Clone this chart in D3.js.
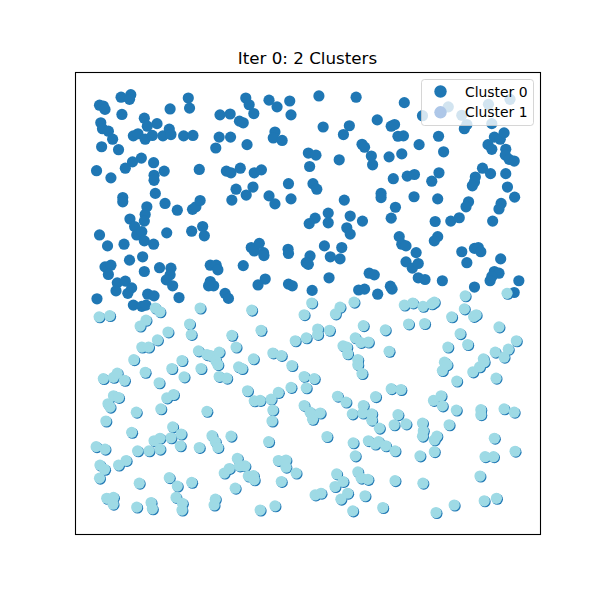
<!DOCTYPE html>
<html>
<head>
<meta charset="utf-8">
<script src="https://cdn.jsdelivr.net/npm/d3@7"></script>
<style>
html,body{margin:0;padding:0;background:#fff;}
svg{display:block;}
</style>
</head>
<body>
<svg id="chart" width="600" height="600"></svg>
<script>
const titleText = "Iter 0: 2 Clusters";
const seriesNames = ["Cluster 0", "Cluster 1"];
const pointColors = ["#1f77b4", "#9edae5"];
const legendColors = ["#1f77b4", "#aec7e8"];

const cluster0 = [
[0.059,0.990],[0.082,0.996],[0.079,0.985],[0.008,0.971],[0.017,0.969],[0.021,0.961],[0.061,0.949],[0.114,0.940],[0.144,0.927],[0.121,0.921],
[0.175,0.962],[0.218,0.988],[0.221,0.964],[0.293,0.948],[0.317,0.950],[0.011,0.929],[0.015,0.915],[0.029,0.909],[0.039,0.890],[0.088,0.898],
[0.099,0.903],[0.116,0.890],[0.133,0.899],[0.158,0.898],[0.173,0.914],[0.177,0.901],[0.207,0.898],[0.229,0.899],[0.291,0.895],[0.318,0.895],
[0.013,0.872],[0.053,0.865],[0.283,0.869],[0.107,0.845],[0.086,0.836],[0.136,0.834],[0.069,0.821],[0.001,0.815],[0.035,0.798],[0.137,0.804],
[0.137,0.792],[0.161,0.814],[0.244,0.818],[0.308,0.814],[0.319,0.810],
[0.354,0.988],[0.362,0.972],[0.373,0.951],[0.339,0.933],[0.348,0.929],[0.409,0.983],[0.428,0.967],[0.458,0.981],[0.461,0.948],[0.527,0.993],
[0.615,0.990],[0.665,0.936],[0.537,0.919],[0.599,0.922],[0.585,0.901],[0.423,0.907],[0.419,0.893],[0.440,0.887],[0.357,0.877],[0.629,0.878],
[0.635,0.871],[0.502,0.857],[0.520,0.852],[0.505,0.825],[0.575,0.841],[0.651,0.850],[0.654,0.829],[0.341,0.821],[0.374,0.810],[0.391,0.817],
[0.455,0.784],[0.513,0.784],[0.371,0.776],
[0.729,0.977],[0.772,0.946],[0.833,0.967],[0.865,0.947],[0.928,0.973],[0.979,0.985],[0.936,0.927],[0.871,0.915],[0.877,0.925],[0.698,0.921],
[0.706,0.925],[0.714,0.897],[0.727,0.898],[0.810,0.897],[0.942,0.895],[0.956,0.890],[0.965,0.905],[0.764,0.877],[0.822,0.860],[0.693,0.848],
[0.723,0.855],[0.927,0.877],[0.936,0.866],[0.969,0.866],[0.968,0.852],[0.977,0.842],[0.989,0.838],[0.703,0.796],[0.736,0.802],[0.753,0.806],
[0.794,0.790],[0.811,0.810],[0.897,0.800],[0.895,0.788],[0.890,0.779],[0.914,0.821],[0.933,0.808],[0.969,0.808],[0.973,0.776],
[0.140,0.761],[0.321,0.745],[0.063,0.751],[0.063,0.741],[0.120,0.729],[0.116,0.711],[0.114,0.695],[0.163,0.737],[0.192,0.721],[0.228,0.723],
[0.236,0.729],[0.246,0.744],[0.080,0.700],[0.091,0.682],[0.096,0.662],[0.108,0.670],[0.114,0.648],[0.136,0.640],[0.167,0.667],[0.226,0.671],
[0.252,0.682],[0.256,0.660],[0.008,0.662],[0.027,0.636],[0.066,0.640],[0.079,0.602],[0.110,0.610],[0.021,0.586],[0.035,0.590],[0.029,0.568],
[0.114,0.575],[0.150,0.584],[0.177,0.583],[0.175,0.567],[0.166,0.555],[0.181,0.541],[0.050,0.548],[0.069,0.552],[0.084,0.536],[0.047,0.529],
[0.075,0.523],[0.270,0.590],[0.284,0.590],[0.288,0.579],[0.270,0.551],[0.278,0.541],[0.266,0.541],[0.305,0.523],[0.313,0.511],[0.002,0.510],
[0.122,0.521],[0.137,0.517],[0.196,0.513],
[0.331,0.771],[0.355,0.757],[0.409,0.755],[0.423,0.736],[0.461,0.748],[0.522,0.771],[0.587,0.745],[0.674,0.761],[0.674,0.751],[0.549,0.714],
[0.518,0.702],[0.504,0.689],[0.549,0.691],[0.601,0.707],[0.630,0.695],[0.593,0.679],[0.601,0.664],[0.367,0.632],[0.374,0.624],[0.386,0.642],
[0.396,0.620],[0.397,0.613],[0.454,0.628],[0.455,0.618],[0.540,0.636],[0.581,0.632],[0.554,0.610],[0.577,0.605],[0.506,0.612],[0.497,0.596],
[0.502,0.592],[0.348,0.589],[0.551,0.560],[0.400,0.557],[0.383,0.543],[0.455,0.545],[0.464,0.541],[0.646,0.571],[0.658,0.567],[0.511,0.530],
[0.621,0.531],[0.635,0.533],[0.666,0.521],
[0.752,0.753],[0.808,0.748],[0.990,0.752],[0.708,0.728],[0.698,0.702],[0.881,0.741],[0.875,0.729],[0.958,0.737],[0.953,0.724],[0.802,0.694],
[0.839,0.695],[0.859,0.703],[0.938,0.695],[0.717,0.658],[0.723,0.640],[0.733,0.636],[0.808,0.658],[0.800,0.648],[0.757,0.620],[0.733,0.598],
[0.748,0.583],[0.762,0.594],[0.865,0.622],[0.895,0.630],[0.904,0.632],[0.910,0.622],[0.877,0.596],[0.957,0.605],[0.762,0.560],[0.778,0.556],
[0.819,0.553],[0.942,0.575],[0.953,0.571],[0.936,0.563],[0.932,0.553],[1.000,0.553],[0.696,0.540],[0.700,0.533],[0.895,0.538],[0.989,0.525],
[0.088,0.495],[0.108,0.492],[0.118,0.495]
];

const cluster1 = [
[0.873,0.517],[0.972,0.523],
[0.140,0.488],[0.151,0.479],[0.007,0.467],[0.032,0.470],[0.118,0.459],[0.104,0.445],[0.246,0.488],[0.221,0.450],[0.225,0.425],[0.170,0.431],
[0.145,0.412],[0.108,0.395],[0.124,0.395],[0.321,0.423],[0.242,0.386],[0.262,0.377],[0.270,0.375],[0.291,0.383],[0.283,0.363],[0.288,0.353],
[0.089,0.365],[0.203,0.363],[0.179,0.344],[0.248,0.344],[0.116,0.335],[0.208,0.324],[0.291,0.325],[0.309,0.321],[0.017,0.320],[0.041,0.323],
[0.050,0.333],[0.067,0.316],[0.149,0.310],[0.041,0.279],[0.053,0.275],[0.028,0.260],[0.033,0.252],[0.167,0.274],[0.183,0.282],[0.153,0.248],
[0.095,0.240],[0.262,0.242],
[0.510,0.500],[0.368,0.483],[0.492,0.472],[0.577,0.490],[0.566,0.474],[0.610,0.502],[0.331,0.395],[0.390,0.435],[0.524,0.438],[0.524,0.425],
[0.552,0.435],[0.471,0.410],[0.497,0.417],[0.632,0.446],[0.613,0.417],[0.626,0.406],[0.644,0.407],[0.684,0.436],[0.584,0.398],[0.593,0.395],
[0.595,0.379],[0.418,0.381],[0.438,0.375],[0.372,0.367],[0.337,0.348],[0.345,0.344],[0.463,0.351],[0.619,0.365],[0.619,0.353],[0.629,0.332],
[0.492,0.325],[0.516,0.320],[0.358,0.291],[0.431,0.287],[0.461,0.299],[0.497,0.298],[0.374,0.267],[0.388,0.268],[0.414,0.271],[0.418,0.245],
[0.571,0.278],[0.591,0.264],[0.661,0.277],[0.492,0.256],[0.506,0.240],[0.530,0.238],[0.632,0.256],[0.631,0.238],[0.652,0.236],[0.606,0.236],
[0.729,0.495],[0.749,0.500],[0.773,0.492],[0.794,0.498],[0.800,0.502],[0.871,0.486],[0.893,0.468],[0.899,0.472],[0.841,0.467],[0.739,0.450],
[0.777,0.451],[0.953,0.443],[0.861,0.427],[0.879,0.401],[0.832,0.395],[0.693,0.385],[0.994,0.410],[0.975,0.390],[0.944,0.383],[0.965,0.371],
[0.916,0.367],[0.918,0.360],[0.907,0.348],[0.891,0.336],[0.824,0.359],[0.830,0.353],[0.819,0.339],[0.853,0.314],[0.946,0.321],[0.698,0.296],
[0.721,0.294],[0.798,0.268],[0.816,0.279],[0.819,0.255],[0.852,0.245],[0.910,0.246],[0.910,0.234],[0.965,0.248],[0.989,0.240],[0.714,0.234],
[0.705,0.210],[0.733,0.212],[0.772,0.214],[0.774,0.196],[0.772,0.183],[0.806,0.183],[0.800,0.174],[0.835,0.210],[0.942,0.178],[0.707,0.148],
[0.766,0.136],[0.800,0.146],[0.920,0.134],[0.940,0.134],[0.991,0.147],[0.707,0.077],[0.773,0.071],[0.908,0.088],[0.918,0.029],[0.947,0.035],
[0.847,0.019],[0.804,0.001],
[0.512,0.223],[0.416,0.219],[0.652,0.221],[0.670,0.202],[0.408,0.170],[0.546,0.182],[0.608,0.167],[0.644,0.172],[0.660,0.164],[0.668,0.170],
[0.685,0.160],[0.613,0.136],[0.334,0.130],[0.339,0.112],[0.352,0.112],[0.431,0.125],[0.449,0.126],[0.449,0.109],[0.473,0.095],[0.360,0.088],
[0.372,0.089],[0.374,0.079],[0.438,0.075],[0.329,0.059],[0.569,0.093],[0.619,0.098],[0.627,0.083],[0.643,0.080],[0.584,0.075],[0.565,0.063],
[0.595,0.047],[0.579,0.033],[0.518,0.043],[0.532,0.047],[0.636,0.041],[0.678,0.013],[0.423,0.017],[0.388,0.007],[0.607,0.005],
[0.023,0.219],[0.084,0.192],[0.181,0.205],[0.201,0.188],[0.177,0.179],[0.137,0.172],[0.151,0.178],[0.199,0.160],[0.000,0.158],[0.021,0.152],
[0.098,0.148],[0.125,0.148],[0.151,0.152],[0.244,0.156],[0.274,0.184],[0.282,0.170],[0.288,0.156],[0.319,0.183],[0.009,0.114],[0.020,0.104],
[0.008,0.083],[0.053,0.114],[0.071,0.125],[0.315,0.106],[0.303,0.095],[0.102,0.071],[0.173,0.084],[0.192,0.064],[0.226,0.073],[0.025,0.035],
[0.041,0.037],[0.040,0.021],[0.096,0.014],[0.130,0.025],[0.133,0.010],[0.189,0.037],[0.204,0.023],[0.203,0.007],[0.282,0.033],[0.279,0.019]
];

const svg = d3.select("#chart");
const ax = {left: 75, top: 72, width: 465, height: 462};
const x = d3.scaleLinear().domain([-0.05, 1.05]).range([ax.left, ax.left + ax.width]);
const y = d3.scaleLinear().domain([-0.05, 1.05]).range([ax.top + ax.height, ax.top]);
const R = 5.6;
const FONT = "'DejaVu Sans', Verdana, sans-serif";

svg.append("rect").attr("width", 600).attr("height", 600).attr("fill", "#fff");

svg.append("clipPath").attr("id", "clip")
  .append("rect").attr("x", ax.left).attr("y", ax.top).attr("width", ax.width).attr("height", ax.height);

const plot = svg.append("g").attr("clip-path", "url(#clip)");

plot.append("g").selectAll("circle").data(cluster0).join("circle")
  .attr("cx", d => x(d[0])).attr("cy", d => y(d[1])).attr("r", R)
  .attr("fill", pointColors[0]);

plot.append("g").selectAll("circle").data(cluster1).join("circle")
  .attr("cx", d => x(d[0]) + 0.9).attr("cy", d => y(d[1]) + 0.9).attr("r", R)
  .attr("fill", pointColors[0]);

plot.append("g").selectAll("circle").data(cluster1).join("circle")
  .attr("cx", d => x(d[0])).attr("cy", d => y(d[1])).attr("r", R)
  .attr("fill", pointColors[1]);

// frame
svg.append("rect")
  .attr("x", ax.left + 0.5).attr("y", ax.top + 0.5)
  .attr("width", ax.width).attr("height", ax.height)
  .attr("fill", "none").attr("stroke", "#000").attr("stroke-width", 1.1);

// title
svg.append("text")
  .attr("x", ax.left + ax.width / 2).attr("y", 64)
  .attr("text-anchor", "middle")
  .attr("font-family", FONT).attr("font-size", 16.7)
  .attr("fill", "#000")
  .text(titleText);

// legend
const lg = svg.append("g");
lg.append("rect")
  .attr("x", 421.5).attr("y", 79.5).attr("width", 112).attr("height", 46)
  .attr("rx", 3).attr("ry", 3)
  .attr("fill", "#fff").attr("fill-opacity", 0.8)
  .attr("stroke", "#cccccc").attr("stroke-opacity", 0.8).attr("stroke-width", 1);
seriesNames.forEach((name, i) => {
  const cy = 91.5 + i * 20.8;
  lg.append("circle").attr("cx", 440.5).attr("cy", cy).attr("r", 6.2).attr("fill", legendColors[i]);
  lg.append("text")
    .attr("x", 465).attr("y", cy).attr("dy", "0.36em")
    .attr("font-family", FONT).attr("font-size", 13.9)
    .attr("fill", "#000")
    .text(name);
});
</script>
</body>
</html>
